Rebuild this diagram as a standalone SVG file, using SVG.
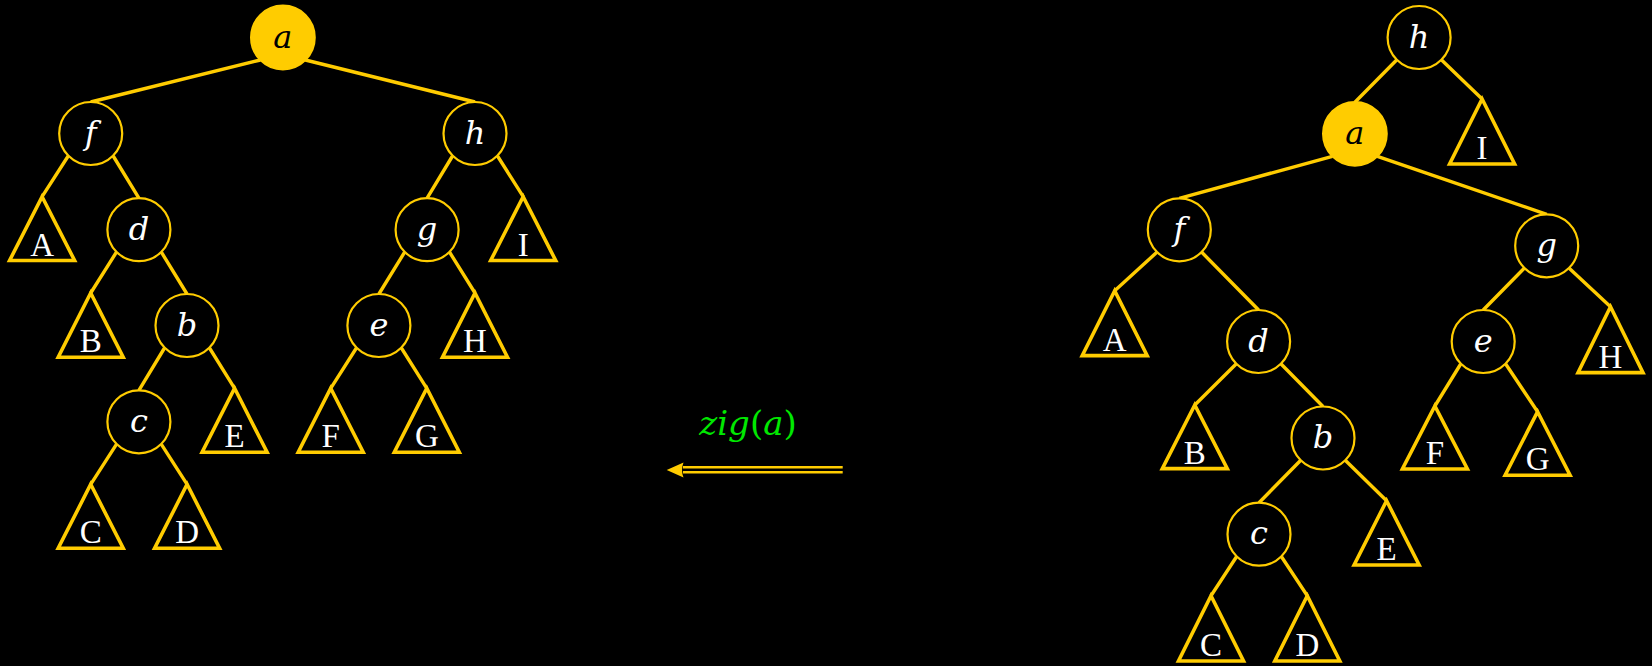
<svg xmlns="http://www.w3.org/2000/svg" width="1652" height="666" viewBox="0 0 1652 666">
<defs>
<style>
.n{fill:#000;stroke:#ffcc00;stroke-width:2.2}
.nf{fill:#ffcc00;stroke:#ffcc00;stroke-width:2.2}
.t{fill:none;stroke:#ffcc00;stroke-width:3.6;stroke-linejoin:miter}
.e{stroke:#ffcc00;stroke-width:3.4;fill:none}
.lv{font-family:"DejaVu Serif",serif;font-style:italic;font-size:32px;fill:#fff;text-anchor:middle}
.lvd{font-family:"DejaVu Serif",serif;font-style:italic;font-size:32px;fill:#000;text-anchor:middle}
.lt{font-family:"Liberation Serif",serif;font-size:33px;fill:#fff;text-anchor:middle}
</style>
</defs>
<rect width="1652" height="666" fill="#000"/>
<g id="connectors">
<path class="e" d="M260.4 60L90.7 102M305.4 60L475 102M68.2 156L42.1 196.7M113.2 156L138.9 198.2M452.5 156L427.1 198.2M497.5 156L523.2 196.7M116.4 252.2L90.7 293M161.4 252.2L187 294M404.6 252.2L378.9 294M449.6 252.2L475 293M164.5 348L138.9 390.3M209.5 348L234.6 388.3M356.4 348L330.7 388.3M401.4 348L426.8 388.3M116.4 444.3L90.7 484.3M161.4 444.3L187.1 484.3"/>
<path class="e" d="M1396.6 60L1354.9 102.3M1441.6 60L1482.1 99M1332.4 156.3L1179.3 198.3M1377.4 156.3L1546.7 214.3M1156.8 252.3L1114.7 290.7M1201.8 252.3L1258.6 310M1524.2 268.3L1483.2 310M1569.2 268.3L1610.5 306.7M1236.1 364L1194.8 405M1281.1 364L1323 406.5M1460.7 364L1434.9 406M1505.7 364L1537.6 411.7M1300.5 460.5L1259 502.7M1345.5 460.5L1386.6 500.7M1236.5 556.7L1211 595.7M1281.5 556.7L1307.3 595.7"/>
<g id="arrow">
<path d="M683 467.3H842.7M683 472.3H842.7" stroke="#ffcc00" stroke-width="2.4" fill="none"/>
<path d="M666.7 470L683.5 462.5Q680.5 470 683.5 477.5Z" fill="#ffcc00"/>
</g>
</g>
<g id="label-zig">
<text x="748" y="435" font-family="DejaVu Serif,serif" font-size="34" fill="#00e800" text-anchor="middle"><tspan font-style="italic">zig</tspan>(<tspan font-style="italic">a</tspan>)</text>
</g>
<g id="L-a"><circle class="nf" cx="282.9" cy="37.5" r="31.8"/><text class="lvd" x="282.9" y="47.5">a</text></g>
<g id="L-f"><circle class="n" cx="90.7" cy="133.5" r="31.5"/><text class="lv" x="90.7" y="143.5">f</text></g>
<g id="L-h"><circle class="n" cx="475" cy="133.5" r="31.5"/><text class="lv" x="475" y="143.5">h</text></g>
<g id="L-d"><circle class="n" cx="138.9" cy="229.7" r="31.5"/><text class="lv" x="138.9" y="239.7">d</text></g>
<g id="L-g"><circle class="n" cx="427.1" cy="229.7" r="31.5"/><text class="lv" x="427.1" y="239.7">g</text></g>
<g id="L-b"><circle class="n" cx="187" cy="325.5" r="31.5"/><text class="lv" x="187" y="335.5">b</text></g>
<g id="L-e"><circle class="n" cx="378.9" cy="325.5" r="31.5"/><text class="lv" x="378.9" y="335.5">e</text></g>
<g id="L-c"><circle class="n" cx="138.9" cy="421.8" r="31.5"/><text class="lv" x="138.9" y="431.8">c</text></g>
<g id="L-A"><path class="t" d="M42.1 196.7L74.6 260.5H9.6Z"/><text class="lt" x="42.1" y="255.5">A</text></g>
<g id="L-B"><path class="t" d="M90.7 293L123.2 357.3H58.2Z"/><text class="lt" x="90.7" y="352.3">B</text></g>
<g id="L-H"><path class="t" d="M475 293L507.5 357.3H442.5Z"/><text class="lt" x="475" y="352.3">H</text></g>
<g id="L-I"><path class="t" d="M523.2 196.7L555.7 260.5H490.7Z"/><text class="lt" x="523.2" y="255.5">I</text></g>
<g id="L-E"><path class="t" d="M234.6 388.3L267.1 452.3H202.1Z"/><text class="lt" x="234.6" y="447.3">E</text></g>
<g id="L-F"><path class="t" d="M330.7 388.3L363.2 452.3H298.2Z"/><text class="lt" x="330.7" y="447.3">F</text></g>
<g id="L-G"><path class="t" d="M426.8 388.3L459.3 452.3H394.3Z"/><text class="lt" x="426.8" y="447.3">G</text></g>
<g id="L-C"><path class="t" d="M90.7 484.3L123.2 548.3H58.2Z"/><text class="lt" x="90.7" y="543.3">C</text></g>
<g id="L-D"><path class="t" d="M187.1 484.3L219.6 548.3H154.6Z"/><text class="lt" x="187.1" y="543.3">D</text></g>
<g id="R-h"><circle class="n" cx="1419.1" cy="37.5" r="31.5"/><text class="lv" x="1419.1" y="47.5">h</text></g>
<g id="R-a"><circle class="nf" cx="1354.9" cy="133.8" r="31.8"/><text class="lvd" x="1354.9" y="143.8">a</text></g>
<g id="R-f"><circle class="n" cx="1179.3" cy="229.8" r="31.5"/><text class="lv" x="1179.3" y="239.8">f</text></g>
<g id="R-g"><circle class="n" cx="1546.7" cy="245.8" r="31.5"/><text class="lv" x="1546.7" y="255.8">g</text></g>
<g id="R-d"><circle class="n" cx="1258.6" cy="341.5" r="31.5"/><text class="lv" x="1258.6" y="351.5">d</text></g>
<g id="R-e"><circle class="n" cx="1483.2" cy="341.5" r="31.5"/><text class="lv" x="1483.2" y="351.5">e</text></g>
<g id="R-b"><circle class="n" cx="1323" cy="438" r="31.5"/><text class="lv" x="1323" y="448">b</text></g>
<g id="R-c"><circle class="n" cx="1259" cy="534.2" r="31.5"/><text class="lv" x="1259" y="544.2">c</text></g>
<g id="R-I"><path class="t" d="M1482.1 99L1514.6 164H1449.6Z"/><text class="lt" x="1482.1" y="159">I</text></g>
<g id="R-A"><path class="t" d="M1114.7 290.7L1147.2 355.6H1082.2Z"/><text class="lt" x="1114.7" y="350.6">A</text></g>
<g id="R-H"><path class="t" d="M1610.5 306.7L1643 372.6H1578Z"/><text class="lt" x="1610.5" y="367.6">H</text></g>
<g id="R-B"><path class="t" d="M1194.8 405L1227.3 468.6H1162.3Z"/><text class="lt" x="1194.8" y="463.6">B</text></g>
<g id="R-F"><path class="t" d="M1434.9 406L1467.4 469H1402.4Z"/><text class="lt" x="1434.9" y="464">F</text></g>
<g id="R-G"><path class="t" d="M1537.6 411.7L1570.1 475.3H1505.1Z"/><text class="lt" x="1537.6" y="470.3">G</text></g>
<g id="R-E"><path class="t" d="M1386.6 500.7L1419.1 565H1354.1Z"/><text class="lt" x="1386.6" y="560">E</text></g>
<g id="R-C"><path class="t" d="M1211 595.7L1243.5 661H1178.5Z"/><text class="lt" x="1211" y="656">C</text></g>
<g id="R-D"><path class="t" d="M1307.3 595.7L1339.8 661H1274.8Z"/><text class="lt" x="1307.3" y="656">D</text></g>
</svg>
